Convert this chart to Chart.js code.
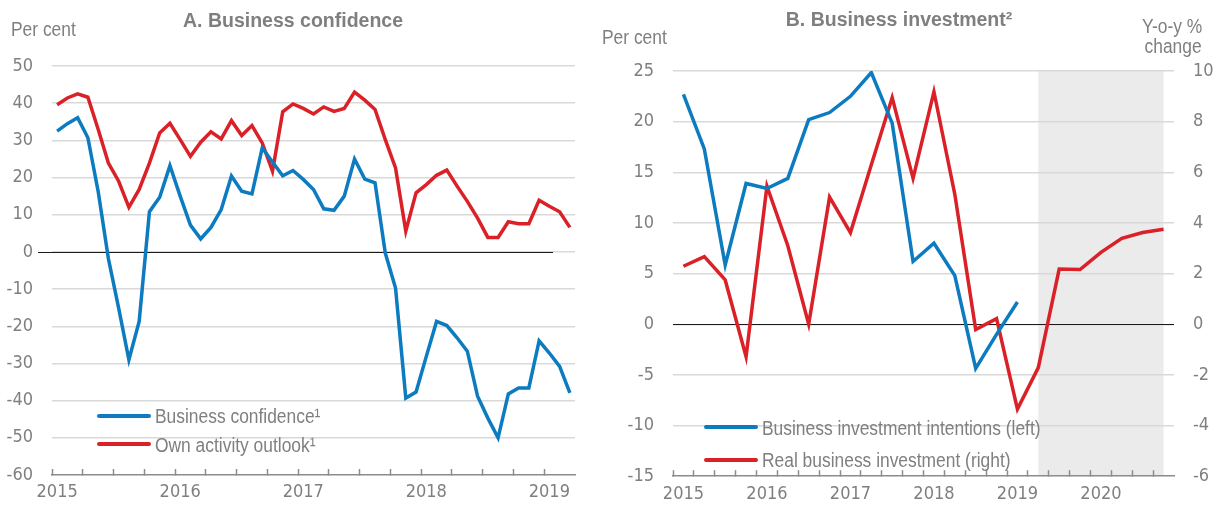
<!DOCTYPE html>
<html>
<head>
<meta charset="utf-8">
<script src="https://cdn.jsdelivr.net/npm/chart.js@4/dist/chart.umd.min.js"></script>
<style>
  html, body { margin: 0; padding: 0; background: #ffffff; }
  #page {
    position: relative; width: 1223px; height: 506px; overflow: hidden;
    font-family: 'Liberation Sans', Arial, sans-serif;
    color: #7f7f7f;
  }
  .panel { position: absolute; top: 0; height: 506px; }
  .panel canvas { display: block; }
  .txt {
    position: absolute; white-space: nowrap; font-size: 20px; line-height: 22px;
    transform: scaleX(0.87); transform-origin: 0 0;
  }
  .txt.r { transform-origin: 100% 0; text-align: right; }
  .title {
    position: absolute; white-space: nowrap; font-weight: bold; font-size: 19.5px; line-height: 22px;
    transform: translateX(-50%);
  }
  .key { position: absolute; width: 54px; height: 4px; border-radius: 2px; }
</style>
</head>
<body>
<div id="page">
  <div class="panel" style="left:0;width:600px"><canvas id="confidence" width="600" height="506"></canvas></div>
  <div class="panel" style="left:600px;width:623px"><canvas id="investment" width="623" height="506"></canvas></div>

  <div class="title" style="left:293px;top:9px">A. Business confidence</div>
  <div class="txt" style="left:11px;top:18px">Per cent</div>
  <div class="key" style="left:97px;top:414px;background:#0c7bc0"></div>
  <div class="txt" style="left:155px;top:405px">Business confidence¹</div>
  <div class="key" style="left:97px;top:442px;background:#da2128"></div>
  <div class="txt" style="left:155px;top:434px">Own activity outlook¹</div>

  <div class="title" style="left:899px;top:8px">B. Business investment²</div>
  <div class="txt" style="left:602px;top:26px">Per cent</div>
  <div class="txt r" style="right:21px;top:15px">Y-o-y %</div>
  <div class="txt r" style="right:21px;top:35px">change</div>
  <div class="key" style="left:704px;top:425px;background:#0c7bc0"></div>
  <div class="txt" style="left:762px;top:417px">Business investment intentions (left)</div>
  <div class="key" style="left:704px;top:458px;background:#da2128"></div>
  <div class="txt" style="left:762px;top:449px">Real business investment (right)</div>
</div>

<script>
// ---- Panel A: monthly survey balances, Jan 2015 - Mar 2019 ----
const months = [
  '2015-01','2015-02','2015-03','2015-04','2015-05','2015-06','2015-07','2015-08','2015-09','2015-10','2015-11','2015-12',
  '2016-01','2016-02','2016-03','2016-04','2016-05','2016-06','2016-07','2016-08','2016-09','2016-10','2016-11','2016-12',
  '2017-01','2017-02','2017-03','2017-04','2017-05','2017-06','2017-07','2017-08','2017-09','2017-10','2017-11','2017-12',
  '2018-01','2018-02','2018-03','2018-04','2018-05','2018-06','2018-07','2018-08','2018-09','2018-10','2018-11','2018-12',
  '2019-01','2019-02','2019-03'
];
const businessConfidence = [
  32.5, 34.5, 36.1, 30.7, 16.3, -1.8, -15.1, -29.0, -18.7, 10.8, 14.7, 23.2,
  15.0, 7.2, 3.5, 6.6, 11.4, 20.4, 16.3, 15.6, 28.0, 24.2, 20.5, 21.9,
  19.5, 16.8, 11.6, 11.2, 15.0, 25.0, 19.6, 18.6, -0.3, -9.7, -39.3, -37.7,
  -28.1, -18.7, -19.8, -23.1, -26.7, -38.8, -44.7, -50.0, -38.2, -36.6, -36.6, -23.9,
  -27.2, -30.8, -37.9
];
const ownActivityOutlook = [
  39.6, 41.4, 42.5, 41.6, 33.0, 23.9, 19.0, 12.0, 16.8, 23.9, 32.0, 34.6,
  30.2, 25.7, 29.5, 32.3, 30.4, 35.3, 31.3, 34.0, 29.3, 21.7, 37.7, 39.8,
  38.6, 37.1, 39.0, 37.8, 38.6, 43.0, 40.8, 38.3, 30.2, 22.6, 5.6, 15.9,
  18.1, 20.6, 22.0, 17.7, 13.6, 9.1, 3.9, 3.9, 8.1, 7.6, 7.6, 13.9,
  12.3, 10.8, 6.6
];
const confidenceTicks = { min: -60, max: 50, step: 10 };

// ---- Panel B: quarterly investment, 2015Q1 - 2020Q4 (projection shaded) ----
const quarters = [
  '2015-Q1','2015-Q2','2015-Q3','2015-Q4','2016-Q1','2016-Q2','2016-Q3','2016-Q4',
  '2017-Q1','2017-Q2','2017-Q3','2017-Q4','2018-Q1','2018-Q2','2018-Q3','2018-Q4',
  '2019-Q1','2019-Q2','2019-Q3','2019-Q4','2020-Q1','2020-Q2','2020-Q3','2020-Q4'
];
const investmentIntentions = [
  22.7, 17.3, 5.85, 13.9, 13.4, 14.4, 20.2, 20.9,
  22.5, 24.85, 19.85, 6.2, 8.0, 4.8, -4.35, -1.0,
  2.2, null, null, null, null, null, null, null
];
const realBusinessInvestment = [
  2.29, 2.67, 1.75, -1.28, 5.45, 3.10, 0.0, 5.02,
  3.62, 6.30, 8.95, 5.76, 9.18, 5.13, -0.21, 0.22,
  -3.35, -1.71, 2.18, 2.16, 2.84, 3.39, 3.62, 3.75
];
const projectionStart = '2019-Q2';
const projectionEnd = '2020-Q4';
const intentionsTicks = { min: -15, max: 25, step: 5 };
const growthTicks = { min: -6, max: 10, step: 2 };

// ---- shared styling ----
const BLUE = '#0c7bc0';
const RED = '#da2128';
const TEXT = '#7f7f7f';
const GRID = '#d9d9d9';
const AXIS = '#8c8c8c';
const tickFont = { family: "'DejaVu Sans Condensed', 'Liberation Sans', sans-serif", size: 18 };

// black reference line at zero on the left-hand value axis
const zeroLine = {
  id: 'zeroLine',
  beforeDatasetsDraw(chart, args, opts) {
    const y = Math.round(chart.scales.y.getPixelForValue(0)) + 0.5;
    const a = chart.chartArea;
    const ctx = chart.ctx;
    ctx.save();
    ctx.strokeStyle = '#1a1a1a';
    ctx.lineWidth = 1.2;
    ctx.beginPath();
    ctx.moveTo(a.left + (opts.startOffset || 0), y);
    ctx.lineTo(a.right + (opts.endOffset || 0), y);
    ctx.stroke();
    ctx.restore();
  }
};

// grey band behind the projection quarters
const projectionBand = {
  id: 'projectionBand',
  beforeDraw(chart, args, opts) {
    if (!opts.from) return;
    const x = chart.scales.x;
    const a = chart.chartArea;
    const x0 = x.getPixelForValue(quarters.indexOf(opts.from));
    const x1 = x.getPixelForValue(quarters.indexOf(opts.to));
    const ctx = chart.ctx;
    ctx.save();
    ctx.fillStyle = '#ebebeb';
    ctx.fillRect(x0, a.top, x1 - x0, a.bottom - a.top);
    ctx.restore();
  }
};

function lineSet(label, data, color, axis) {
  return {
    label, data, yAxisID: axis,
    borderColor: color, backgroundColor: color,
    borderWidth: 3.5, pointRadius: 0, tension: 0, fill: false, spanGaps: false
  };
}

function timeAxis(tickEvery, yearOf, height) {
  return {
    type: 'category',
    offset: true,
    grid: {
      offset: true, drawOnChartArea: false, drawTicks: true,
      tickLength: -6, tickWidth: 1.5,
      tickColor: (c) => (c.index % tickEvery === 0 ? AXIS : 'rgba(0,0,0,0)')
    },
    border: { display: true, color: AXIS, width: 1.5 },
    ticks: {
      autoSkip: false, maxRotation: 0, minRotation: 0, padding: 13,
      color: TEXT, font: tickFont,
      callback(value) { return yearOf(this.getLabelForValue(value)); }
    },
    afterFit(s) { s.height = height; }
  };
}

function valueAxis(pos, t, showGrid, width) {
  return {
    type: 'linear', position: pos, min: t.min, max: t.max,
    grid: {
      display: showGrid, drawTicks: false, lineWidth: 1.5,
      color: (c) => (c.tick && c.tick.value === t.min ? 'rgba(0,0,0,0)' : GRID)
    },
    border: { display: false },
    ticks: { stepSize: t.step, padding: 19, color: TEXT, font: tickFont },
    afterFit(s) { s.width = width; }
  };
}

const common = {
  responsive: false,
  animation: false,
  devicePixelRatio: 1,
  events: [],
  plugins: { legend: { display: false }, tooltip: { enabled: false }, title: { display: false } }
};

// Panel A
new Chart(document.getElementById('confidence'), {
  type: 'line',
  data: {
    labels: months,
    datasets: [
      lineSet('Business confidence¹', businessConfidence, BLUE, 'y'),
      lineSet('Own activity outlook¹', ownActivityOutlook, RED, 'y')
    ]
  },
  options: Object.assign({}, common, {
    layout: { padding: { top: 66, right: 25, left: 0, bottom: 0 } },
    plugins: Object.assign({}, common.plugins, { zeroLine: { startOffset: -14, endOffset: -22 } }),
    scales: {
      x: timeAxis(3, (l) => (l.endsWith('-01') ? l.slice(0, 4) : ''), 31),
      y: valueAxis('left', confidenceTicks, true, 52)
    }
  }),
  plugins: [zeroLine]
});

// Panel B
new Chart(document.getElementById('investment'), {
  type: 'line',
  data: {
    labels: quarters,
    datasets: [
      lineSet('Business investment intentions (left)', investmentIntentions, BLUE, 'y'),
      lineSet('Real business investment (right)', realBusinessInvestment, RED, 'y2')
    ]
  },
  options: Object.assign({}, common, {
    layout: { padding: { top: 71, right: 0, left: 0, bottom: 0 } },
    plugins: Object.assign({}, common.plugins, {
      zeroLine: { startOffset: 0, endOffset: 0 },
      projectionBand: { from: projectionStart, to: projectionEnd }
    }),
    scales: {
      x: timeAxis(1, (l) => (l.endsWith('-Q1') ? l.slice(0, 4) : ''), 28),
      y: valueAxis('left', intentionsTicks, true, 73),
      y2: valueAxis('right', growthTicks, false, 49)
    }
  }),
  plugins: [projectionBand, zeroLine]
});
</script>
</body>
</html>
